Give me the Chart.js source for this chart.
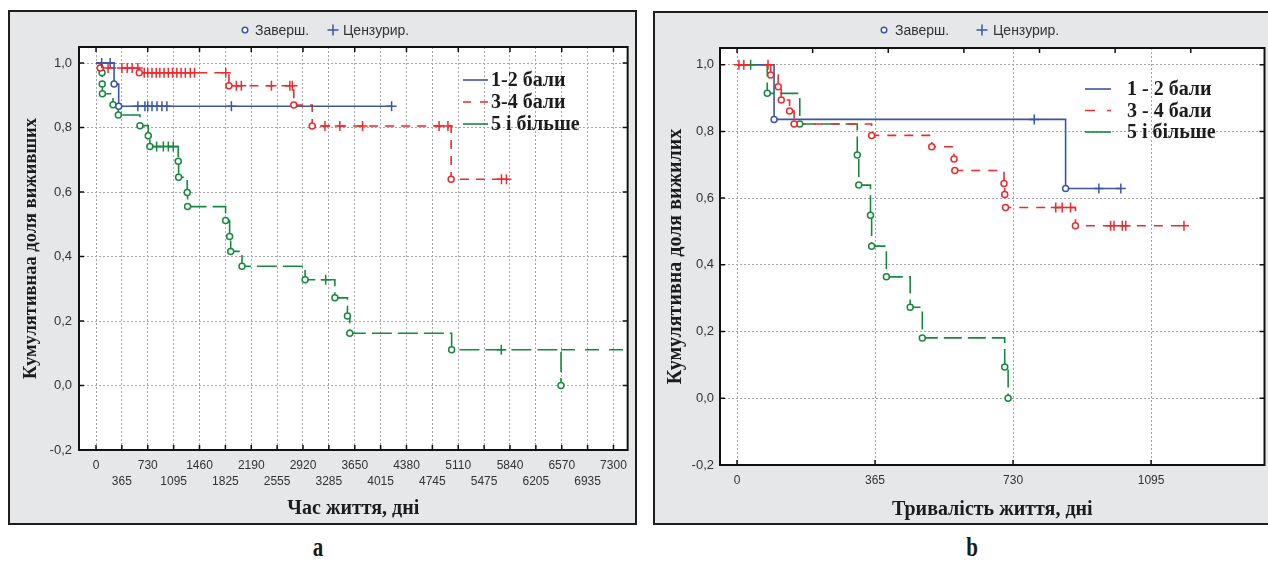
<!DOCTYPE html>
<html><head><meta charset="utf-8">
<script src="https://cdn.jsdelivr.net/npm/chart.js@4"></script>
<style>
html,body{margin:0;padding:0;background:#fff;width:1268px;height:563px;overflow:hidden;position:relative}
.panel{position:absolute;box-sizing:border-box;border:2px solid #1e1e1e;background:#e6e7e9;overflow:hidden}
#pa{left:8px;top:10px;width:629px;height:515px}
#pb{left:653px;top:11px;width:620px;height:514px}
.panel canvas{position:absolute;left:0;top:0}
.cap{position:absolute;width:40px;text-align:center;font:bold 28px 'Liberation Serif','Times New Roman',serif;line-height:28px;color:#1a1a1a;transform:scaleX(0.75)}
</style></head><body>
<div class="panel" id="pa"><canvas id="ca" width="625" height="511" style="width:625px;height:511px"></canvas></div>
<div class="panel" id="pb"><canvas id="cb" width="616" height="510" style="width:616px;height:510px"></canvas></div>
<div class="cap" style="left:298px;top:533px">a</div>
<div class="cap" style="left:952px;top:533px">b</div>
<script>
// ---------- data ----------
const namesA = ['1-2 бали', '3-4 бали', '5 і більше'];
const namesB = ['1 - 2 бали', '3 - 4 бали', '5 і більше'];
const markerLabels = ['Заверш.', 'Цензурир.'];
const xTitleA = 'Час життя, дні';
const xTitleB = 'Тривалість життя, дні';
const yTitleA = 'Кумулятивнаа доля виживших';
const yTitleB = 'Кумулятивна доля вижилих';

const xTicksA = [0,365,730,1095,1460,1825,2190,2555,2920,3285,3650,4015,4380,4745,5110,5475,5840,6205,6570,6935,7300];
const xTopTicksA = [0,730,1460,2190,2920,3650,4380,5110,5840,6570,7300];
const xTicksB = [0,365,730,1095];
const xTopTicksB = [0,200,400,600,800,1000,1200];
const yTicks = [-0.2,0,0.2,0.4,0.6,0.8,1.0];
const yTickLabels = ['-0,2','0,0','0,2','0,4','0,6','0,8','1,0'];

// panel a: [time, survival after event]; censored times
const blueEventsA = [[255,0.935],[320,0.866]];
const blueCensA = [80,200,590,690,730,790,860,930,1000,1910,4170];
const redEventsA = [[60,0.985],[610,0.970],[1875,0.930],[2790,0.870],[3050,0.805],[5010,0.640]];
const redCensA = [170,365,440,510,590,680,730,790,850,900,960,1020,1080,1140,1200,1260,1330,1390,1830,1980,2050,2475,2735,2770,3230,3440,3760,4840,4965,5720,5790];
const greenEventsA = [[85,0.970],[88,0.935],[90,0.905],[240,0.871],[315,0.839],[620,0.806],[737,0.775],[760,0.741],[1160,0.696],[1165,0.646],[1287,0.599],[1292,0.555],[1828,0.512],[1885,0.462],[1900,0.416],[2060,0.370],[2950,0.328],[3370,0.272],[3547,0.216],[3580,0.162],[5017,0.111],[6560,0.000]];
const greenCensA = [855,950,1020,1090,3240,5717];
const greenTailA = [[6560,0.111],[7500,0.111]];

// panel b
const blueEventsB = [[98,0.836],[869,0.629]];
const blueCensB = [786,957,1015];
const redEventsB = [[89,0.969],[109,0.934],[117,0.894],[139,0.861],[151,0.822],[356,0.788],[515,0.754],[574,0.717],[576,0.683],[706,0.644],[708,0.611],[710,0.572],[895,0.517]];
const redCensB = [5,18,82,843,860,882,988,997,1019,1028,1182];
const greenEventsB = [[80,0.914],[166,0.822],[318,0.729],[322,0.639],[353,0.549],[356,0.456],[395,0.364],[458,0.273],[490,0.181],[708,0.094],[717,0.000]];
const greenCensB = [36];

// ---------- styling ----------
const BLUE = '#3b55a5', RED = '#ee2a2d', GREEN = '#17893f';
const SANS = "'Liberation Sans', Arial, sans-serif";
const SERIF = "'Liberation Serif', 'Times New Roman', serif";

function survAt(events, t){ let s = 1; events.forEach(([et, es]) => { if (et <= t) s = es; }); return s; }
function curve(events, cens){
  const pts = [{x:0, y:1}];
  events.forEach(([t, s]) => pts.push({x:t, y:s}));
  const last = pts[pts.length - 1];
  const lastT = Math.max(last.x, ...cens);
  if (lastT > last.x) pts.push({x:lastT, y:last.y});
  return pts;
}
function seriesSets(events, cens, color, dash){
  return [
    {data: curve(events, cens), borderColor: color, borderWidth: 1.6, borderDash: dash, stepped: 'before', pointRadius: 0, fill: false, order: 2},
    {data: events.map(([t, s]) => ({x:t, y:s})), showLine: false, pointStyle: 'circle', pointRadius: 3, pointBorderWidth: 1.5, pointBorderColor: color, pointBackgroundColor: '#fff', order: 1},
    {data: cens.map(t => ({x:t, y:survAt(events, t)})), showLine: false, pointStyle: 'cross', pointRadius: 5, pointBorderWidth: 1.5, pointBorderColor: color, order: 1}
  ];
}

function makePlugin(o){
  return {
    id: 'kmframe',
    beforeDraw(chart){
      const a = chart.chartArea, c = chart.ctx;
      c.save(); c.fillStyle = '#fff'; c.fillRect(a.left, a.top, a.right - a.left, a.bottom - a.top); c.restore();
    },
    afterDraw(chart){
      const a = chart.chartArea, c = chart.ctx, xs = chart.scales.x, ys = chart.scales.y;
      c.save();
      c.strokeStyle = '#111'; c.lineWidth = 1.5; c.setLineDash([]);
      c.beginPath();
      o.bottomTicks.forEach(v => { const p = xs.getPixelForValue(v); c.moveTo(p, a.bottom); c.lineTo(p, a.bottom - 5); });
      o.topTicks.forEach(v => { const p = xs.getPixelForValue(v); c.moveTo(p, a.top); c.lineTo(p, a.top + 5); });
      yTicks.forEach(v => { const p = ys.getPixelForValue(v); c.moveTo(a.left, p); c.lineTo(a.left + 5, p); c.moveTo(a.right, p); c.lineTo(a.right - 5, p); });
      c.stroke();
      c.lineWidth = 2; c.strokeRect(a.left, a.top, a.right - a.left, a.bottom - a.top);
      // marker legend (top)
      const ly = o.markerY;
      c.strokeStyle = BLUE; c.lineWidth = 1.5; c.fillStyle = '#fff';
      c.beginPath(); c.arc(a.left + o.mk[0], ly, 2.8, 0, Math.PI * 2); c.fill(); c.stroke();
      const cx = a.left + o.mk[2];
      c.beginPath(); c.moveTo(cx - 5.5, ly); c.lineTo(cx + 5.5, ly); c.moveTo(cx, ly - 5.5); c.lineTo(cx, ly + 5.5); c.stroke();
      c.fillStyle = '#333'; c.font = '14px ' + SANS; c.textBaseline = 'middle'; c.textAlign = 'left';
      c.fillText(markerLabels[0], a.left + o.mk[1], ly + 1);
      c.fillText(markerLabels[1], a.left + o.mk[3], ly + 1);
      // series legend (inside plot)
      o.series.forEach((s, i) => {
        const y = a.top + o.lg.y0 + i * o.lg.dy;
        c.strokeStyle = s.color; c.lineWidth = 1.6; c.setLineDash(s.legendDash);
        c.beginPath(); c.moveTo(a.left + o.lg.x, y); c.lineTo(a.left + o.lg.x + o.lg.len, y); c.stroke();
        c.setLineDash([]);
        c.fillStyle = '#1c1c1c'; c.font = 'bold 20px ' + SERIF; c.textBaseline = 'middle';
        c.fillText(o.names[i], a.left + o.lg.tx, y + 1);
      });
      c.restore();
    }
  };
}

function makeChart(canvasId, cfg){
  const datasets = [];
  cfg.series.forEach(s => datasets.push(...seriesSets(s.events, s.cens, s.color, s.dash)));
  (cfg.extra || []).forEach(d => datasets.push(d));
  return new Chart(document.getElementById(canvasId), {
    type: 'line',
    data: {datasets},
    plugins: [makePlugin(cfg.plugin)],
    options: {
      responsive: false, animation: false,
      layout: {padding: cfg.padding},
      plugins: {legend: {display: false}, tooltip: {enabled: false}},
      scales: {
        x: {
          type: 'linear', min: cfg.xMin, max: cfg.xMax,
          afterBuildTicks: sc => { sc.ticks = cfg.xTicks.map(v => ({value: v})); },
          afterFit: sc => { sc.height = cfg.xHeight; },
          grid: {color: '#a5a5a5', lineWidth: 1, drawTicks: false},
          border: {display: false, dash: [2, 2]},
          ticks: {
            autoSkip: false, maxRotation: 0, padding: cfg.xTickPad, color: '#333',
            font: {family: SANS, size: 12, lineHeight: '16px'},
            callback: (v, i) => cfg.twoRows ? (i % 2 === 0 ? [String(v), ''] : ['', String(v)]) : String(v)
          },
          title: {display: true, text: cfg.xTitle, color: '#1c1c1c', font: {family: SERIF, size: 20, weight: 'bold'}, padding: {top: 0, bottom: cfg.xTitlePad}}
        },
        y: {
          type: 'linear', min: -0.2, max: 1.05,
          afterBuildTicks: sc => { sc.ticks = yTicks.map(v => ({value: v})); },
          afterFit: sc => { sc.width = cfg.yWidth; },
          grid: {color: '#a5a5a5', lineWidth: 1, drawTicks: false},
          border: {display: false, dash: [2, 2]},
          ticks: {
            padding: cfg.yTickPad, color: '#333', font: {family: SANS, size: 13},
            callback: (v) => { const i = yTicks.findIndex(t => Math.abs(t - v) < 1e-9); return i >= 0 ? yTickLabels[i] : ''; }
          },
          title: {display: true, text: cfg.yTitle, color: '#1c1c1c', font: {family: SERIF, size: cfg.yTitleSize, weight: 'bold'}, padding: {top: cfg.yTitlePad, bottom: 0}}
        }
      }
    }
  });
}

const seriesA = [
  {events: blueEventsA, cens: blueCensA, color: BLUE, dash: [], legendDash: []},
  {events: redEventsA, cens: redCensA, color: RED, dash: [9, 7], legendDash: [8, 9]},
  {events: greenEventsA, cens: greenCensA, color: GREEN, dash: [20, 6], legendDash: []}
];
const seriesB = [
  {events: blueEventsB, cens: blueCensB, color: BLUE, dash: [], legendDash: []},
  {events: redEventsB, cens: redCensB, color: RED, dash: [9, 8], legendDash: [10, 12]},
  {events: greenEventsB, cens: greenCensB, color: GREEN, dash: [18, 6], legendDash: []}
];

makeChart('ca', {
  series: seriesA,
  extra: [{data: greenTailA.map(([t, s]) => ({x:t, y:s})), borderColor: GREEN, borderWidth: 1.6, borderDash: [14, 10], pointRadius: 0, order: 2}],
  padding: {top: 35, right: 7, bottom: 0, left: 0},
  xMin: -240, xMax: 7500, xTicks: xTicksA, twoRows: true,
  xHeight: 73, xTickPad: 8, xTitle: xTitleA, xTitlePad: 2,
  yWidth: 69, yTickPad: 7, yTitle: yTitleA, yTitleSize: 18.5, yTitlePad: 9.9,
  plugin: {bottomTicks: xTicksA, topTicks: xTopTicksA, markerY: 18, mk: [166, 176, 254, 264],
    series: seriesA, names: namesA, lg: {x: 384, len: 25, tx: 412, y0: 33, dy: 22}}
});

makeChart('cb', {
  series: seriesB,
  padding: {top: 35, right: 5, bottom: 0, left: 0},
  xMin: -45, xMax: 1395, xTicks: xTicksB, twoRows: false,
  xHeight: 58, xTickPad: 8, xTitle: xTitleB, xTitlePad: 1,
  yWidth: 65, yTickPad: 6, yTitle: yTitleB, yTitleSize: 20, yTitlePad: 9,
  plugin: {bottomTicks: xTicksB, topTicks: xTopTicksB, markerY: 17, mk: [164, 175, 262, 273],
    series: seriesB, names: namesB, lg: {x: 365, len: 26, tx: 407, y0: 41, dy: 21.5}}
});
</script>
</body></html>
